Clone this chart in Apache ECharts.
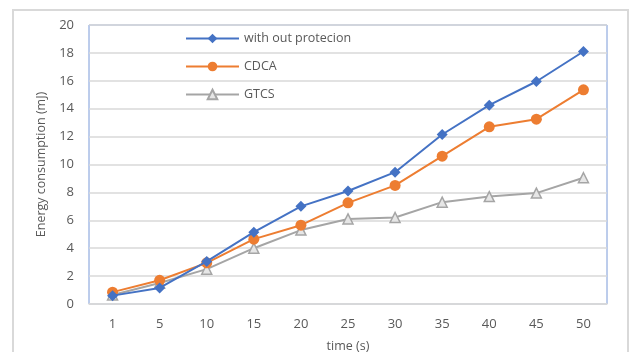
<!DOCTYPE html>
<html><head><meta charset="utf-8">
<script src="https://cdn.jsdelivr.net/npm/echarts@6/dist/echarts.min.js"></script>
<style>html,body{margin:0;padding:0;background:#fff}#c{width:633px;height:352px}</style>
</head><body><div id="c"></div>
<script>
const categories = ['1','5','10','15','20','25','30','35','40','45','50'];
const withoutProtection = [0.6, 1.15, 3.05, 5.15, 7.0, 8.1, 9.45, 12.15, 14.25, 15.95, 18.1];
const cdca = [0.85, 1.7, 2.95, 4.65, 5.65, 7.25, 8.5, 10.6, 12.7, 13.25, 15.35];
const gtcs = [0.65, 1.5, 2.5, 4.0, 5.3, 6.1, 6.2, 7.3, 7.7, 7.95, 9.05];
const seriesNames = ['with out protecion', 'CDCA', 'GTCS'];
const yTicks = {min: 0, max: 20, interval: 2};

const chart = echarts.init(document.getElementById('c'));
const font = '"Open Sans", "Noto Sans", sans-serif';
const txt = '#595959';
chart.setOption({
  animation: false,
  textStyle: {fontFamily: font},
  graphic: [{type: 'rect', shape: {x: 13, y: 10, width: 615, height: 350}, style: {fill: 'none', stroke: '#d9d9d9', lineWidth: 2}, z: -1}],
  grid: {left: 89, right: 26, top: 25, bottom: 48, outerBoundsMode: 'none', containLabel: false, show: true, borderColor: '#7a9ad8', borderWidth: 1, backgroundColor: 'transparent'},
  legend: {
    orient: 'vertical', left: 180, top: 27, itemGap: 15, itemWidth: 53, itemHeight: 12,
    textStyle: {color: txt, fontSize: 12.5, fontFamily: font},
    data: seriesNames
  },
  xAxis: {
    type: 'category', data: categories, boundaryGap: true,
    name: 'time (s)', nameLocation: 'middle', nameGap: 36,
    nameTextStyle: {color: txt, fontSize: 12.5},
    axisLine: {show: true, lineStyle: {color: '#d9d9d9', width: 1.5}},
    axisTick: {show: false},
    axisLabel: {color: txt, fontSize: 13, margin: 14}
  },
  yAxis: {
    type: 'value', min: yTicks.min, max: yTicks.max, interval: yTicks.interval,
    name: 'Energy consumption (mJ)', nameLocation: 'middle', nameGap: 40,
    nameTextStyle: {color: txt, fontSize: 12.5},
    axisLine: {show: false}, axisTick: {show: false},
    axisLabel: {color: txt, fontSize: 13, margin: 15},
    splitLine: {lineStyle: {color: '#d9d9d9', width: 1.5}}
  },
  series: [
    {name: seriesNames[0], type: 'line', data: withoutProtection, symbol: 'diamond', symbolSize: 11,
     itemStyle: {color: '#4472C4'}, lineStyle: {color: '#4472C4', width: 2}, z: 4},
    {name: seriesNames[1], type: 'line', data: cdca, symbol: 'circle', symbolSize: 11,
     itemStyle: {color: '#ED7D31'}, lineStyle: {color: '#ED7D31', width: 2}, z: 3},
    {name: seriesNames[2], type: 'line', data: gtcs, symbol: 'triangle', symbolSize: 10,
     itemStyle: {color: '#e6e6e6', borderColor: '#A5A5A5', borderWidth: 1.5}, lineStyle: {color: '#A5A5A5', width: 2}, z: 2}
  ]
});
</script></body></html>
